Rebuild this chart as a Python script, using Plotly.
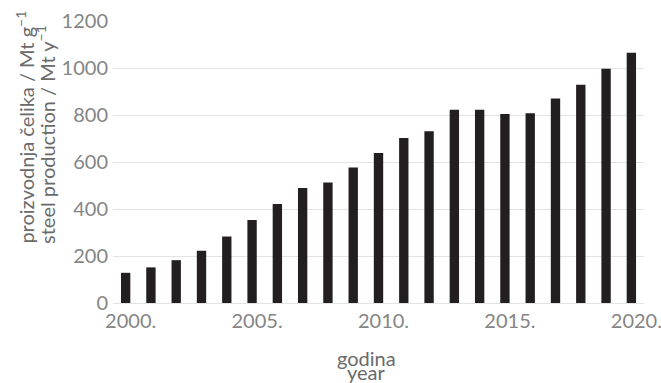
import plotly.graph_objects as go

# Annual steel production, Mt per year
years = list(range(2000, 2021))
production = [128.5, 151.6, 182.2, 222.3, 282.9, 353.2, 421.0, 489.3, 512.3, 577.1,
              638.7, 701.9, 731.0, 822.0, 822.3, 803.8, 807.6, 870.7, 928.3, 996.3, 1064.8]

x_tick_vals = [2000, 2005, 2010, 2015, 2020]
x_tick_text = ["2000.", "2005.", "2010.", "2015.", "2020."]
y_tick_vals = [0, 200, 400, 600, 800, 1000, 1200]

FONT = "Lato"
TICK_COLOR = "#858585"
TITLE_COLOR = "#6a6a6a"

fig = go.Figure(
    go.Bar(
        x=years,
        y=production,
        marker=dict(color="#231f20", line=dict(width=0)),
        width=0.37,
    )
)

fig.update_layout(
    width=661,
    height=383,
    margin=dict(l=113, r=17, t=21, b=80, autoexpand=False),
    paper_bgcolor="white",
    plot_bgcolor="white",
    showlegend=False,
    font=dict(family=FONT, size=20, color=TICK_COLOR),
    xaxis=dict(
        range=[1999.5, 2020.5],
        tickmode="array",
        tickvals=x_tick_vals,
        ticktext=x_tick_text,
        showgrid=False,
        zeroline=False,
        showline=False,
        ticks="",
        automargin=False,
        ticklabelshift=5,
        ticklabelstandoff=4,
        ticklabeloverflow="allow",
        tickfont=dict(family=FONT, size=20, color=TICK_COLOR),
    ),
    yaxis=dict(
        range=[0, 1200],
        tickmode="array",
        tickvals=y_tick_vals,
        showgrid=True,
        gridcolor="#e3e3e3",
        gridwidth=1.3,
        zeroline=True,
        zerolinecolor="#e3e3e3",
        zerolinewidth=1.3,
        showline=False,
        ticks="",
        automargin=False,
        ticklabelstandoff=4,
        tickfont=dict(family=FONT, size=20, color=TICK_COLOR),
    ),
)

# Axis titles (Croatian / English pairs)
title_font = dict(family=FONT, size=20, color=TITLE_COLOR)
annotations = [
    dict(text="proizvodnja čelika / Mt g<sup>−1</sup>", x=-0.166, y=0.625, textangle=-90),
    dict(text="steel production / Mt y<sup>−1</sup>", x=-0.127, y=0.598, textangle=-90),
    dict(text="godina", x=0.478, y=-0.196, textangle=0),
    dict(text="year", x=0.478, y=-0.245, textangle=0),
]
for a in annotations:
    fig.add_annotation(
        text=a["text"], x=a["x"], y=a["y"], xref="paper", yref="paper",
        xanchor="center", yanchor="middle", textangle=a["textangle"],
        showarrow=False, font=title_font,
    )

fig.write_html("out.html")
